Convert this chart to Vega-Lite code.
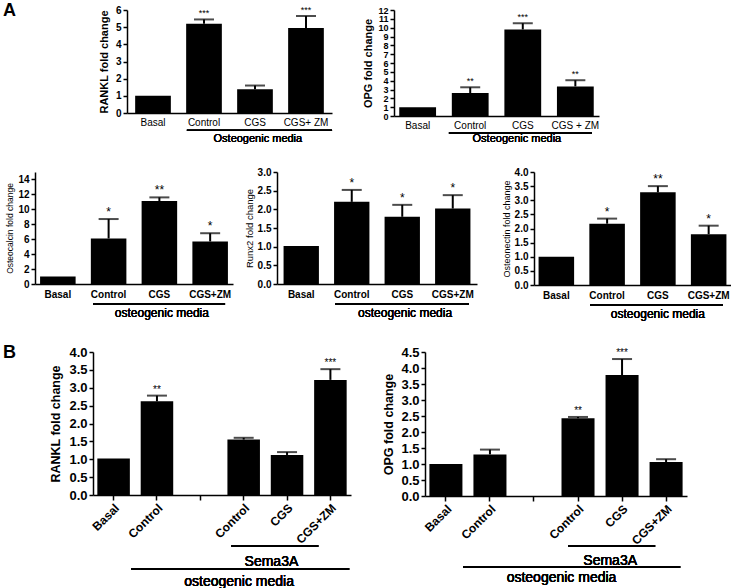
{
  "$schema": "https://vega.github.io/schema/vega-lite/v6.json",
  "padding": {"left": 3, "top": 2, "right": 0, "bottom": 0},
  "columns": 1,
  "align": "none",
  "spacing": 23,
  "config": {
    "view": {"stroke": null},
    "font": "Liberation Sans",
    "mark": {"color": "#000"},
    "axis": {"grid": false, "labelOverlap": false, "domainColor": "#000", "domainWidth": 1.5, "tickColor": "#000", "tickWidth": 1.5, "labelColor": "#000", "titleColor": "#000", "labelFont": "Liberation Sans", "titleFont": "Liberation Sans"},
    "text": {"font": "Liberation Sans", "color": "#000", "fontWeight": "normal"}
  },
  "concat": [
    {
      "spacing": 49,
      "hconcat": [
        {
          "width": 14, "height": 2,
          "data": {"values": [{"panel": "A"}]},
          "mark": {"type": "text", "fontSize": 18, "fontWeight": "bold", "baseline": "middle", "align": "left", "dx": -39, "color": "#000"},
          "encoding": {"text": {"field": "panel"}}
        },
        {
          "spacing": 29,
          "hconcat": [
            {
              "width": 205, "height": 103,
              "data": {"values": [
                {"group": "Basal", "value": 1.0, "upper": null, "sig": ""},
                {"group": "Control", "value": 5.2, "upper": 5.45, "sig": "***"},
                {"group": "CGS", "value": 1.38, "upper": 1.6, "sig": ""},
                {"group": "CGS+ ZM", "value": 4.95, "upper": 5.65, "sig": "***"}
              ]},
              "encoding": {"x": {"field": "group", "type": "nominal", "sort": null,
                "scale": {"domain": ["Basal", "Control", "CGS", "CGS+ ZM"], "paddingInner": 0.3, "paddingOuter": 0.16},
                "axis": {"title": null, "labelAngle": 0, "ticks": false, "labelFontSize": 10, "labelPadding": 4}}},
              "layer": [
                {"mark": "bar", "encoding": {"y": {"field": "value", "type": "quantitative", "scale": {"domain": [0, 6], "nice": false},
                  "axis": {"title": "RANKL fold change", "tickCount": 6, "titleFontSize": 11, "titleFontWeight": "bold", "labelFontSize": 10, "labelFontWeight": "bold", "tickSize": 4, "titlePadding": 6}}}},
                {"transform": [{"filter": "datum.upper != null"}], "mark": {"type": "rule", "strokeWidth": 2}, "encoding": {"y": {"field": "value", "type": "quantitative"}, "y2": {"field": "upper"}}},
                {"transform": [{"filter": "datum.upper != null"}], "mark": {"type": "tick", "thickness": 2, "size": 20}, "encoding": {"y": {"field": "upper", "type": "quantitative"}}},
                {"transform": [{"filter": "datum.upper != null"}], "mark": {"type": "text", "baseline": "bottom", "dy": -1, "fontSize": 9, "color": "#000"}, "encoding": {"y": {"field": "upper", "type": "quantitative"}, "text": {"field": "sig"}}},
                {"mark": {"type": "rule", "strokeWidth": 1.5}, "encoding": {"x": {"datum": "Control", "bandPosition": 0.02}, "x2": {"datum": "CGS+ ZM", "bandPosition": 1.23}, "y": {"datum": -1.0}}},
                {"mark": {"type": "text", "fontSize": 11, "baseline": "middle", "fontWeight": "normal", "color": "#000"}, "encoding": {"x": {"datum": "CGS", "bandPosition": 0.58}, "y": {"datum": -1.5}, "text": {"value": "Osteogenic media"}}}
              ]
            },
            {
              "width": 205, "height": 106,
              "data": {"values": [
                {"group": "Basal", "value": 1.0, "upper": null, "sig": ""},
                {"group": "Control", "value": 2.6, "upper": 3.25, "sig": "**"},
                {"group": "CGS", "value": 9.8, "upper": 10.5, "sig": "***"},
                {"group": "CGS + ZM", "value": 3.35, "upper": 4.05, "sig": "**"}
              ]},
              "encoding": {"x": {"field": "group", "type": "nominal", "sort": null,
                "scale": {"domain": ["Basal", "Control", "CGS", "CGS + ZM"], "paddingInner": 0.3, "paddingOuter": 0.1},
                "axis": {"title": null, "labelAngle": 0, "ticks": false, "labelFontSize": 10, "labelPadding": 4}}},
              "layer": [
                {"mark": "bar", "encoding": {"y": {"field": "value", "type": "quantitative", "scale": {"domain": [0, 12], "nice": false},
                  "axis": {"title": "OPG fold change", "tickCount": 12, "titleFontSize": 11, "titleFontWeight": "bold", "labelFontSize": 9, "labelFontWeight": "bold", "tickSize": 4, "titlePadding": 4}}}},
                {"transform": [{"filter": "datum.upper != null"}], "mark": {"type": "rule", "strokeWidth": 2}, "encoding": {"y": {"field": "value", "type": "quantitative"}, "y2": {"field": "upper"}}},
                {"transform": [{"filter": "datum.upper != null"}], "mark": {"type": "tick", "thickness": 2, "size": 20}, "encoding": {"y": {"field": "upper", "type": "quantitative"}}},
                {"transform": [{"filter": "datum.upper != null"}], "mark": {"type": "text", "baseline": "bottom", "dy": -1, "fontSize": 9, "color": "#000"}, "encoding": {"y": {"field": "upper", "type": "quantitative"}, "text": {"field": "sig"}}},
                {"mark": {"type": "rule", "strokeWidth": 1.5}, "encoding": {"x": {"datum": "Control", "bandPosition": -0.08}, "x2": {"datum": "CGS + ZM", "bandPosition": 0.95}, "y": {"datum": -1.92}}},
                {"mark": {"type": "text", "fontSize": 11, "baseline": "middle", "fontWeight": "normal", "color": "#000"}, "encoding": {"x": {"datum": "CGS", "bandPosition": 0.34}, "y": {"datum": -2.6}, "text": {"value": "Osteogenic media"}}}
              ]
            }
          ]
        }
      ]
    },
    {
      "spacing": 11,
      "hconcat": [
        {
          "width": 198, "height": 112,
          "data": {"values": [
            {"group": "Basal", "value": 1.0, "upper": null, "sig": ""},
            {"group": "Control", "value": 6.1, "upper": 8.7, "sig": "*"},
            {"group": "CGS", "value": 11.1, "upper": 11.6, "sig": "**"},
            {"group": "CGS+ZM", "value": 5.7, "upper": 6.8, "sig": "*"}
          ]},
          "encoding": {"x": {"field": "group", "type": "nominal", "sort": null,
            "scale": {"domain": ["Basal", "Control", "CGS", "CGS+ZM"], "paddingInner": 0.3, "paddingOuter": 0.1},
            "axis": {"title": null, "labelAngle": 0, "ticks": false, "labelFontSize": 10, "labelFontWeight": "bold", "labelPadding": 5}}},
          "layer": [
            {"mark": "bar", "encoding": {"y": {"field": "value", "type": "quantitative", "scale": {"domain": [0, 15], "nice": false},
              "axis": {"title": "Osteocalcin fold change", "tickCount": 7, "titleFontSize": 8.5, "titleFontWeight": "normal", "labelFontSize": 10, "labelFontWeight": "bold", "tickSize": 4, "titlePadding": 3}}}},
            {"transform": [{"filter": "datum.upper != null"}], "mark": {"type": "rule", "strokeWidth": 2}, "encoding": {"y": {"field": "value", "type": "quantitative"}, "y2": {"field": "upper"}}},
            {"transform": [{"filter": "datum.upper != null"}], "mark": {"type": "tick", "thickness": 2, "size": 20}, "encoding": {"y": {"field": "upper", "type": "quantitative"}}},
            {"transform": [{"filter": "datum.upper != null"}], "mark": {"type": "text", "baseline": "bottom", "dy": 0, "fontSize": 12, "color": "#000"}, "encoding": {"y": {"field": "upper", "type": "quantitative"}, "text": {"field": "sig"}}},
            {"mark": {"type": "rule", "strokeWidth": 1.5}, "encoding": {"x": {"datum": "Control", "bandPosition": 0.06}, "x2": {"datum": "CGS+ZM", "bandPosition": 0.92}, "y": {"datum": -2.68}}},
            {"mark": {"type": "text", "fontSize": 12, "baseline": "middle", "fontWeight": "normal", "color": "#000"}, "encoding": {"x": {"datum": "CGS", "bandPosition": 0.57}, "y": {"datum": -3.9}, "text": {"value": "osteogenic media"}}}
          ]
        },
        {
          "spacing": 25,
          "hconcat": [
            {
              "width": 200, "height": 112,
              "data": {"values": [
                {"group": "Basal", "value": 1.02, "upper": null, "sig": ""},
                {"group": "Control", "value": 2.2, "upper": 2.52, "sig": "*"},
                {"group": "CGS", "value": 1.8, "upper": 2.12, "sig": "*"},
                {"group": "CGS+ZM", "value": 2.02, "upper": 2.38, "sig": "*"}
              ]},
              "encoding": {"x": {"field": "group", "type": "nominal", "sort": null,
                "scale": {"domain": ["Basal", "Control", "CGS", "CGS+ZM"], "paddingInner": 0.3, "paddingOuter": 0.13},
                "axis": {"title": null, "labelAngle": 0, "ticks": false, "labelFontSize": 10, "labelFontWeight": "bold", "labelPadding": 5}}},
              "layer": [
                {"mark": "bar", "encoding": {"y": {"field": "value", "type": "quantitative", "scale": {"domain": [0, 3], "nice": false},
                  "axis": {"title": "Runx2 fold change", "tickCount": 6, "format": ".1f", "titleFontSize": 9.5, "titleFontWeight": "normal", "labelFontSize": 10, "labelFontWeight": "bold", "tickSize": 4, "titlePadding": 3}}}},
                {"transform": [{"filter": "datum.upper != null"}], "mark": {"type": "rule", "strokeWidth": 2}, "encoding": {"y": {"field": "value", "type": "quantitative"}, "y2": {"field": "upper"}}},
                {"transform": [{"filter": "datum.upper != null"}], "mark": {"type": "tick", "thickness": 2, "size": 20}, "encoding": {"y": {"field": "upper", "type": "quantitative"}}},
                {"transform": [{"filter": "datum.upper != null"}], "mark": {"type": "text", "baseline": "bottom", "dy": 0, "fontSize": 12, "color": "#000"}, "encoding": {"y": {"field": "upper", "type": "quantitative"}, "text": {"field": "sig"}}},
                {"mark": {"type": "rule", "strokeWidth": 1.5}, "encoding": {"x": {"datum": "Control", "bandPosition": 0.03}, "x2": {"datum": "CGS+ZM", "bandPosition": 0.96}, "y": {"datum": -0.536}}},
                {"mark": {"type": "text", "fontSize": 12, "baseline": "middle", "fontWeight": "normal", "color": "#000"}, "encoding": {"x": {"datum": "CGS", "bandPosition": 0.58}, "y": {"datum": -0.78}, "text": {"value": "osteogenic media"}}}
              ]
            },
            {
              "width": 197, "height": 113,
              "data": {"values": [
                {"group": "Basal", "value": 1.0, "upper": null, "sig": ""},
                {"group": "Control", "value": 2.17, "upper": 2.35, "sig": "*"},
                {"group": "CGS", "value": 3.28, "upper": 3.5, "sig": "**"},
                {"group": "CGS+ZM", "value": 1.8, "upper": 2.1, "sig": "*"}
              ]},
              "encoding": {"x": {"field": "group", "type": "nominal", "sort": null,
                "scale": {"domain": ["Basal", "Control", "CGS", "CGS+ZM"], "paddingInner": 0.3, "paddingOuter": 0.09},
                "axis": {"title": null, "labelAngle": 0, "ticks": false, "labelFontSize": 10, "labelFontWeight": "bold", "labelPadding": 5}}},
              "layer": [
                {"mark": "bar", "encoding": {"y": {"field": "value", "type": "quantitative", "scale": {"domain": [0, 4], "nice": false},
                  "axis": {"title": "Osteonectin fold change", "tickCount": 8, "format": ".1f", "titleFontSize": 9, "titleFontWeight": "normal", "labelFontSize": 10, "labelFontWeight": "bold", "tickSize": 4, "titlePadding": 3}}}},
                {"transform": [{"filter": "datum.upper != null"}], "mark": {"type": "rule", "strokeWidth": 2}, "encoding": {"y": {"field": "value", "type": "quantitative"}, "y2": {"field": "upper"}}},
                {"transform": [{"filter": "datum.upper != null"}], "mark": {"type": "tick", "thickness": 2, "size": 20}, "encoding": {"y": {"field": "upper", "type": "quantitative"}}},
                {"transform": [{"filter": "datum.upper != null"}], "mark": {"type": "text", "baseline": "bottom", "dy": 0, "fontSize": 12, "color": "#000"}, "encoding": {"y": {"field": "upper", "type": "quantitative"}, "text": {"field": "sig"}}},
                {"mark": {"type": "rule", "strokeWidth": 1.5}, "encoding": {"x": {"datum": "Control", "bandPosition": 0.02}, "x2": {"datum": "CGS+ZM", "bandPosition": 0.9}, "y": {"datum": -0.71}}},
                {"mark": {"type": "text", "fontSize": 12, "baseline": "middle", "fontWeight": "normal", "color": "#000"}, "encoding": {"x": {"datum": "CGS", "bandPosition": 0.5}, "y": {"datum": -1.03}, "text": {"value": "osteogenic media"}}}
              ]
            }
          ]
        }
      ]
    },
    {
      "spacing": 0,
      "hconcat": [
        {
          "width": 14, "height": 2,
          "data": {"values": [{"panel": "B"}]},
          "mark": {"type": "text", "fontSize": 18, "fontWeight": "bold", "baseline": "middle", "align": "left", "dx": -39, "color": "#000"},
          "encoding": {"text": {"field": "panel"}}
        },
        {
          "spacing": 31,
          "hconcat": [
            {
              "width": 258, "height": 143,
              "data": {"values": [
                {"group": "Basal", "value": 1.02, "upper": null, "sig": ""},
                {"group": "Control", "value": 2.62, "upper": 2.78, "sig": "**"},
                {"group": "Sema3A Control", "value": 1.55, "upper": 1.6, "sig": ""},
                {"group": "Sema3A CGS", "value": 1.12, "upper": 1.2, "sig": ""},
                {"group": "Sema3A CGS+ZM", "value": 3.22, "upper": 3.52, "sig": "***"}
              ]},
              "encoding": {"x": {"field": "group", "type": "nominal", "sort": null,
                "scale": {"domain": ["Basal", "Control", "gap", "Sema3A Control", "Sema3A CGS", "Sema3A CGS+ZM"], "paddingInner": 0.25, "paddingOuter": 0.1},
                "axis": {"title": null, "labelAngle": -45, "ticks": true, "tickSize": 5, "labelFontSize": 12, "labelFontWeight": "bold", "labelPadding": 2,
                  "labelExpr": "datum.value == 'gap' ? '' : replace(datum.value, 'Sema3A ', '')"}}},
              "layer": [
                {"mark": "bar", "encoding": {"y": {"field": "value", "type": "quantitative", "scale": {"domain": [0, 4], "nice": false},
                  "axis": {"title": "RANKL fold change", "tickCount": 8, "format": ".1f", "titleFontSize": 12.5, "titleFontWeight": "bold", "labelFontSize": 13, "labelFontWeight": "bold", "tickSize": 4, "titlePadding": 6}}}},
                {"transform": [{"filter": "datum.upper != null"}], "mark": {"type": "rule", "strokeWidth": 2}, "encoding": {"y": {"field": "value", "type": "quantitative"}, "y2": {"field": "upper"}}},
                {"transform": [{"filter": "datum.upper != null"}], "mark": {"type": "tick", "thickness": 2, "size": 20}, "encoding": {"y": {"field": "upper", "type": "quantitative"}}},
                {"transform": [{"filter": "datum.upper != null"}], "mark": {"type": "text", "baseline": "bottom", "dy": -1, "fontSize": 10, "color": "#000"}, "encoding": {"y": {"field": "upper", "type": "quantitative"}, "text": {"field": "sig"}}},
                {"mark": {"type": "rule", "strokeWidth": 1.5}, "encoding": {"x": {"datum": "Sema3A Control", "bandPosition": 0.12}, "x2": {"datum": "Sema3A CGS+ZM", "bandPosition": 0.13}, "y": {"datum": -1.43}}},
                {"mark": {"type": "text", "fontSize": 14, "baseline": "middle", "fontWeight": "normal", "color": "#000"}, "encoding": {"x": {"datum": "Sema3A CGS", "bandPosition": 0.02}, "y": {"datum": -1.88}, "text": {"value": "Sema3A"}}},
                {"mark": {"type": "rule", "strokeWidth": 1.5}, "encoding": {"x": {"datum": "Basal", "bandPosition": 1.04}, "x2": {"datum": "Sema3A CGS+ZM", "bandPosition": 1.08}, "y": {"datum": -2.07}}},
                {"mark": {"type": "text", "fontSize": 14, "baseline": "middle", "fontWeight": "normal", "color": "#000"}, "encoding": {"x": {"datum": "Sema3A Control", "bandPosition": 0.36}, "y": {"datum": -2.42}, "text": {"value": "osteogenic media"}}}
              ]
            },
            {
              "width": 262, "height": 144,
              "data": {"values": [
                {"group": "Basal", "value": 1.0, "upper": null, "sig": ""},
                {"group": "Control", "value": 1.3, "upper": 1.45, "sig": ""},
                {"group": "Sema3A Control", "value": 2.43, "upper": 2.47, "sig": "**"},
                {"group": "Sema3A CGS", "value": 3.78, "upper": 4.28, "sig": "***"},
                {"group": "Sema3A CGS+ZM", "value": 1.06, "upper": 1.15, "sig": ""}
              ]},
              "encoding": {"x": {"field": "group", "type": "nominal", "sort": null,
                "scale": {"domain": ["Basal", "Control", "gap", "Sema3A Control", "Sema3A CGS", "Sema3A CGS+ZM"], "paddingInner": 0.25, "paddingOuter": 0.1},
                "axis": {"title": null, "labelAngle": -45, "ticks": true, "tickSize": 5, "labelFontSize": 12, "labelFontWeight": "bold", "labelPadding": 2,
                  "labelExpr": "datum.value == 'gap' ? '' : replace(datum.value, 'Sema3A ', '')"}}},
              "layer": [
                {"mark": "bar", "encoding": {"y": {"field": "value", "type": "quantitative", "scale": {"domain": [0, 4.5], "nice": false},
                  "axis": {"title": "OPG fold change", "tickCount": 9, "format": ".1f", "titleFontSize": 12.5, "titleFontWeight": "bold", "labelFontSize": 13, "labelFontWeight": "bold", "tickSize": 4, "titlePadding": 5}}}},
                {"transform": [{"filter": "datum.upper != null"}], "mark": {"type": "rule", "strokeWidth": 2}, "encoding": {"y": {"field": "value", "type": "quantitative"}, "y2": {"field": "upper"}}},
                {"transform": [{"filter": "datum.upper != null"}], "mark": {"type": "tick", "thickness": 2, "size": 20}, "encoding": {"y": {"field": "upper", "type": "quantitative"}}},
                {"transform": [{"filter": "datum.upper != null"}], "mark": {"type": "text", "baseline": "bottom", "dy": -1, "fontSize": 10, "color": "#000"}, "encoding": {"y": {"field": "upper", "type": "quantitative"}, "text": {"field": "sig"}}},
                {"mark": {"type": "rule", "strokeWidth": 1.5}, "encoding": {"x": {"datum": "Sema3A Control", "bandPosition": 0.2}, "x2": {"datum": "Sema3A CGS+ZM", "bandPosition": 0.17}, "y": {"datum": -1.56}}},
                {"mark": {"type": "text", "fontSize": 14, "baseline": "middle", "fontWeight": "normal", "color": "#000"}, "encoding": {"x": {"datum": "Sema3A CGS", "bandPosition": 0.14}, "y": {"datum": -2.02}, "text": {"value": "Sema3A"}}},
                {"mark": {"type": "rule", "strokeWidth": 1.5}, "encoding": {"x": {"datum": "Basal", "bandPosition": 1.02}, "x2": {"datum": "Sema3A CGS+ZM", "bandPosition": 0.93}, "y": {"datum": -2.22}}},
                {"mark": {"type": "text", "fontSize": 14, "baseline": "middle", "fontWeight": "normal", "color": "#000"}, "encoding": {"x": {"datum": "Sema3A Control", "bandPosition": 0.0}, "y": {"datum": -2.56}, "text": {"value": "osteogenic media"}}}
              ]
            }
          ]
        }
      ]
    }
  ]
}
